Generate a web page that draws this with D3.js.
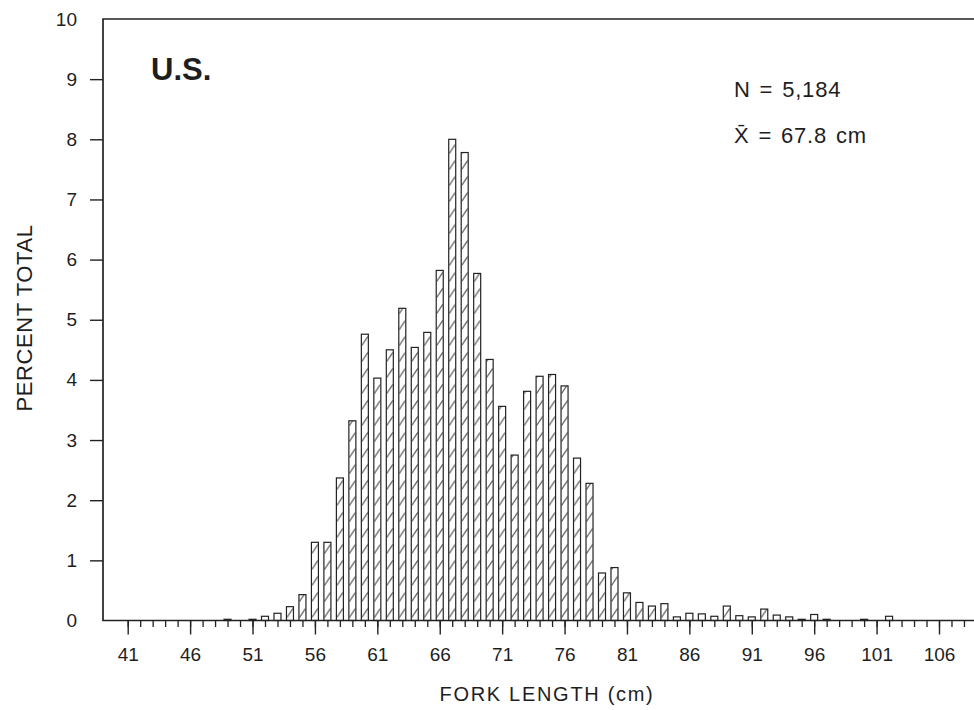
<!DOCTYPE html>
<html>
<head>
<meta charset="utf-8">
<script src="https://cdn.jsdelivr.net/npm/d3@7"></script>
<style>
  html, body { margin: 0; padding: 0; background: #fff; }
  svg text { font-family: "Liberation Sans", Arial, Helvetica, sans-serif; fill: #1e1e1e; }
</style>
</head>
<body>
<div id="chart"></div>
<script>
// fork length classes (cm) and percent of total
const lengths = d3.range(41, 109);
const percents = [
    0, 0, 0, 0, 0, 0, 0, 0,             // 41-48
    0.02, 0, 0.02, 0.07, 0.12, 0.23, 0.43, // 49-55
    1.30, 1.30, 2.37, 3.32, 4.76,        // 56-60
    4.03, 4.50, 5.19, 4.54, 4.79,        // 61-65
    5.82, 8.00, 7.78, 5.77, 4.34,        // 66-70
    3.56, 2.75, 3.81, 4.06, 4.09,        // 71-75
    3.90, 2.70, 2.28, 0.79, 0.88,        // 76-80
    0.46, 0.30, 0.24, 0.28, 0.06,        // 81-85
    0.12, 0.11, 0.07, 0.24, 0.08,        // 86-90
    0.06, 0.19, 0.09, 0.06, 0.02,        // 91-95
    0.10, 0.02, 0, 0, 0.02,              // 96-100
    0, 0.07, 0, 0, 0, 0, 0, 0            // 101-108
];
const majorTicks = [41, 46, 51, 56, 61, 66, 71, 76, 81, 86, 91, 96, 101, 106];
const yTicks = d3.range(0, 11);
const sampleSize = 'N = 5,184';
const meanLabel = 'X\u0304 = 67.8 cm';
const panelLabel = 'U.S.';

const data = lengths.map((l, i) => ({ length: l, pct: percents[i] }));

const width = 974, height = 710;
const ink = '#222';

const svg = d3.select('#chart').append('svg')
    .attr('width', width)
    .attr('height', height);

const x = d3.scaleLinear().domain([41, 106]).range([127.7, 939]);
const y = d3.scaleLinear().domain([0, 10]).range([620.5, 19]);
const axisLeft = 103, axisRight = 974;
const barW = 7;
const step = x(42) - x(41);

// diagonal hatch, tiled in step with the bars
const hatchH = 16;
const defs = svg.append('defs');
const pat = defs.append('pattern')
    .attr('id', 'hatch')
    .attr('patternUnits', 'userSpaceOnUse')
    .attr('x', x(41) - barW / 2)
    .attr('y', y(0))
    .attr('width', step)
    .attr('height', hatchH);
pat.append('rect').attr('width', step).attr('height', hatchH).attr('fill', '#fff');
pat.append('line')
    .attr('x1', 0.5).attr('y1', hatchH - 3)
    .attr('x2', barW - 0.5).attr('y2', hatchH - 12)
    .attr('stroke', '#333').attr('stroke-width', 1);

// bars
svg.append('g').classed('bars', true)
    .selectAll('rect')
    .data(data.filter(d => d.pct > 0))
    .enter().append('rect')
    .attr('x', d => x(d.length) - barW / 2)
    .attr('y', d => y(d.pct))
    .attr('width', barW)
    .attr('height', d => y(0) - y(d.pct))
    .attr('fill', d => (y(0) - y(d.pct)) > 10 ? 'url(#hatch)' : '#fff')
    .attr('stroke', ink)
    .attr('stroke-width', 1.2);

// frame: left axis, bottom axis, top line
const frame = svg.append('g').attr('stroke', ink).attr('stroke-width', 1.7).attr('fill', 'none');
frame.append('path').attr('d', `M${axisRight},${y(10)}H${axisLeft}V${y(0)}H${axisRight}`);

// y axis
const yAxis = svg.append('g')
    .attr('transform', `translate(${axisLeft},0)`)
    .call(d3.axisLeft(y).tickValues(yTicks).tickSize(13).tickPadding(13).tickFormat(d3.format('d')));
yAxis.select('.domain').remove();
yAxis.selectAll('.tick line')
    .attr('stroke', ink).attr('stroke-width', 1.4)
    .filter(d => d === 0 || d === 10).remove();
yAxis.selectAll('.tick text')
    .style('font-size', '19px')
    .attr('fill', ink);

// x axis: minor ticks every cm, major ticks labelled
const xMinor = svg.append('g')
    .attr('transform', `translate(0,${y(0)})`)
    .call(d3.axisBottom(x).tickValues(lengths).tickSize(6.5).tickFormat(''));
xMinor.select('.domain').remove();
xMinor.selectAll('.tick line').attr('stroke', ink).attr('stroke-width', 1.3);

const xMajor = svg.append('g')
    .attr('transform', `translate(0,${y(0)})`)
    .call(d3.axisBottom(x).tickValues(majorTicks).tickSize(14).tickPadding(13).tickFormat(d3.format('d')));
xMajor.select('.domain').remove();
xMajor.selectAll('.tick line').attr('stroke', ink).attr('stroke-width', 1.4);
xMajor.selectAll('.tick text')
    .style('font-size', '19px')
    .attr('fill', ink);

// axis titles
svg.append('text')
    .attr('x', 547)
    .attr('y', 701)
    .attr('text-anchor', 'middle')
    .style('font-size', '20px')
    .style('letter-spacing', '1.7px')
    .text('FORK LENGTH (cm)');

svg.append('text')
    .attr('transform', 'translate(32,318) rotate(-90)')
    .attr('text-anchor', 'middle')
    .style('font-size', '22px')
    .style('letter-spacing', '0.6px')
    .text('PERCENT TOTAL');

// annotations
svg.append('text')
    .attr('x', 151)
    .attr('y', 80)
    .style('font-size', '31px')
    .style('font-weight', 'bold')
    .text(panelLabel);

svg.append('text')
    .attr('x', 734)
    .attr('y', 97)
    .style('font-size', '22px')
    .style('letter-spacing', '0.8px')
    .style('word-spacing', '2px')
    .text(sampleSize);

svg.append('text')
    .attr('x', 734)
    .attr('y', 143)
    .style('font-size', '22px')
    .style('letter-spacing', '0.8px')
    .style('word-spacing', '2px')
    .text(meanLabel);
</script>
</body>
</html>
